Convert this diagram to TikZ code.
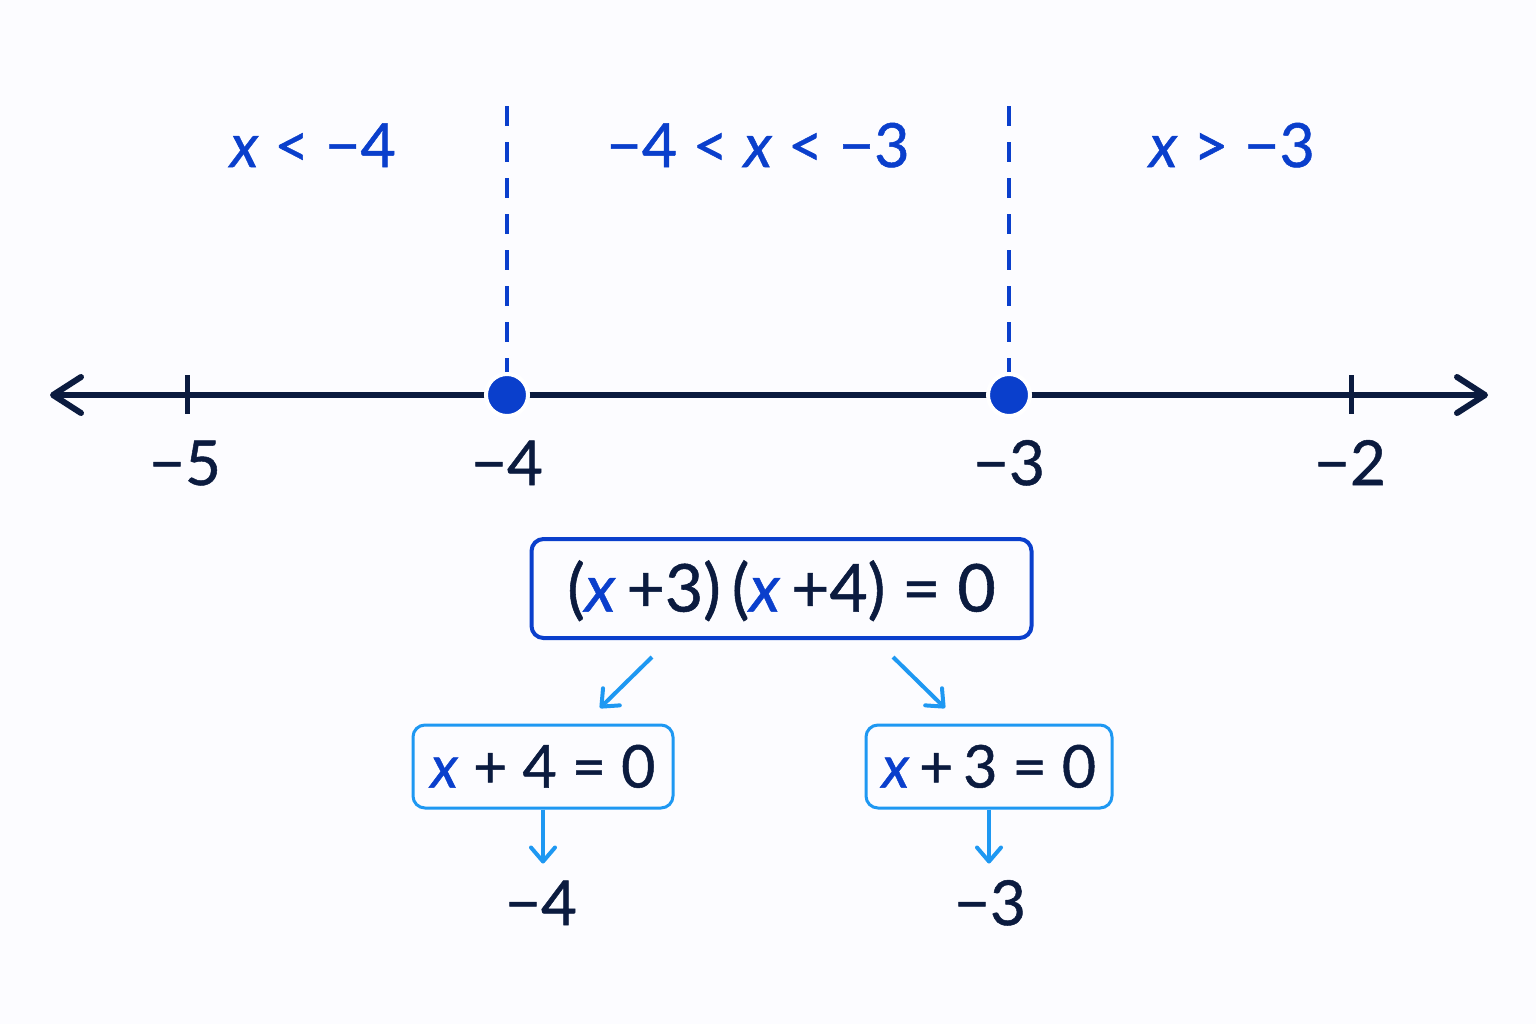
\documentclass[tikz,border=0pt]{standalone}
\usepackage{fontspec}
\setmainfont{Lato}[FakeBold=0.8]
\usetikzlibrary{arrows.meta,positioning}
\definecolor{navy}{HTML}{0B1B3F}
\definecolor{deepblue}{HTML}{0A3FCC}
\definecolor{skyblue}{HTML}{1E98F2}
\newcommand{\vx}{\textcolor{deepblue}{\textit{x}}}

\begin{document}
\begin{tikzpicture}[
    x=0.5pt, y=-0.5pt,
    axis/.style={line width=3pt, draw=navy, line cap=round,
        {Straight Barb[length=14pt,width=18pt,line width=3pt,round]}-{Straight Barb[length=14pt,width=18pt,line width=3pt,round]}},
    tickmark/.style={line width=2.5pt, draw=navy},
    border/.style={line width=2pt, draw=deepblue, dash pattern=on 10pt off 8pt},
    root/.style={circle, fill=deepblue, draw=white, line width=2pt,
        minimum size=21pt, inner sep=0pt},
    numlab/.style={anchor=base, text=navy, font=\fontsize{31}{38}\selectfont},
    region/.style={anchor=base, text=deepblue, font=\fontsize{30.5}{38}\selectfont},
    eqbox/.style={rectangle, rounded corners=6pt, text=navy, inner sep=0pt,
        text depth=0pt},
    link/.style={draw=skyblue, line width=2pt,
        -{Straight Barb[length=7pt,width=12pt,line width=2pt,round]}}
    ]

\fill[white!97!blue!40] (0,0) rectangle (1536,1024);
\useasboundingbox (0,0) rectangle (1536,1024);

%number line
\coordinate (left end) at (50,395);
\coordinate (right end) at (1488,395);
\draw[axis] (left end) -- (right end);
\draw[tickmark] (187,375) -- (187,414);
\draw[tickmark] (1351,375) -- (1351,414);

%borders of the regions
\coordinate (top4) at (507,106);
\coordinate (top3) at (1009,106);
\node[root] (root4) at (507,395) {};
\node[root] (root3) at (1009,395) {};
\draw[border] (top4) -- (root4.north);
\draw[border] (top3) -- (root3.north);

%labels under the line
\node[numlab] (lab5) at (185,485) {−5};
\node[numlab] (lab4) at (507,485) {−4};
\node[numlab] (lab3) at (1009,485) {−3};
\node[numlab] (lab2) at (1350,485) {−2};

%regions
\node[region] (reg left) at (313,167) {\textit{x} < −4};
\node[region] (reg mid) at (758,167) {−4 < \textit{x} < −3};
\node[region] (reg right) at (1232,167) {\textit{x} > −3};

%equation and its factors
\node[eqbox, draw=deepblue, line width=2pt, minimum width=250pt, minimum height=49.5pt,
    text height=23pt, font=\fontsize{33}{38}\selectfont] (product) at (781.5,588.5)
    {(\vx\,+3)\,(\vx\,+4) = 0};
\node[eqbox, draw=skyblue, line width=1.5pt, minimum width=130pt, minimum height=41.5pt,
    text height=21pt, font=\fontsize{29.5}{35}\selectfont] (factor4) at (543,766.5)
    {\vx\ + 4 = 0};
\node[eqbox, draw=skyblue, line width=1.5pt, minimum width=123pt, minimum height=41.5pt,
    text height=21pt, font=\fontsize{29.5}{35}\selectfont] (factor3) at (989,766.5)
    {\vx\,+\,3 = 0};

\coordinate (split4) at (652,657);
\coordinate (split3) at (893,657);
\draw[link] (split4) -- (600,708);
\draw[link] (split3) -- (945,708);

%solutions
\node[numlab] (sol4) at (541,925) {−4};
\node[numlab] (sol3) at (990,925) {−3};
\draw[link] (factor4.south) -- ++(0,54);
\draw[link] (factor3.south) -- ++(0,54);
\end{tikzpicture}
\end{document}
